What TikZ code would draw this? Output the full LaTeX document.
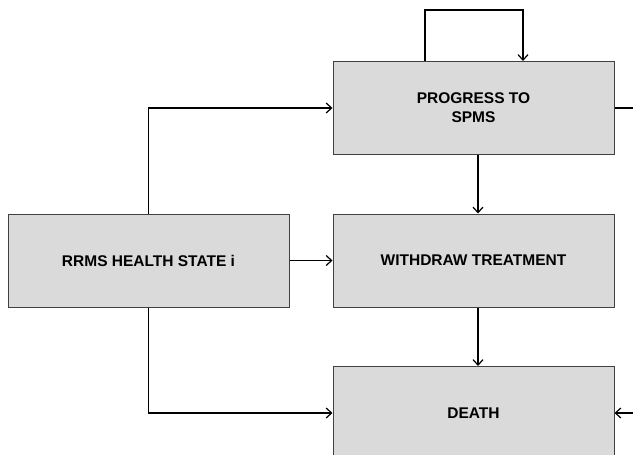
\documentclass[tikz,border=0pt]{standalone}
\usepackage{fontspec}
\setmainfont{Liberation Sans}
\usetikzlibrary{arrows.meta}
\usetikzlibrary{positioning}
\tikzset{state/.style = {draw=mborder, fill=mgray, line width=1pt,
                         minimum width=281pt, minimum height=93pt,
                         align=center, font=\bfseries\fontsize{15.5}{19}\selectfont},
         flow/.style = {-{Straight Barb[length=5.5pt, width=10pt, line width=1.2pt]},
                        line width=1.2pt}}
\definecolor{mgray}{rgb}{0.855, 0.855, 0.855}
\definecolor{mborder}{rgb}{0.25, 0.25, 0.25}
\begin{document}
\begin{tikzpicture}[x=1pt, y=-1pt]
    \clip (0, 0) rectangle (633, 455);
    \fill [white] (0, 0) rectangle (633, 455);

    \node [state] (rrms) at (148.5, 260.5) {RRMS HEALTH STATE i};
    \node [state] (progress) at (473.5, 108) {PROGRESS TO\\SPMS};
    \node [state] (withdraw) at (473.5, 260.5) {WITHDRAW TREATMENT};
    \node [state] (death) at (473.5, 413) {DEATH};

    \coordinate (exitright) at (640, 108);
    \coordinate (fromright) at (640, 413);

    \draw [flow] (rrms.north) |- (progress.west);
    \draw [flow] (rrms.east) -- (withdraw.west);
    \draw [flow] (rrms.south) |- (death.west);
    \draw [flow] ([xshift=4.5pt]progress.south) -- ([xshift=4.5pt]withdraw.north);
    \draw [flow] ([xshift=4.5pt]withdraw.south) -- ([xshift=4.5pt]death.north);
    \draw [flow] ([xshift=-48.5pt]progress.north) -- ++(0, -51) -| ([xshift=49.5pt]progress.north);
    \draw [line width=1.2pt] (progress.east) -- (exitright);
    \draw [flow] (fromright) -- (death.east);
  \end{tikzpicture}
\end{document}
